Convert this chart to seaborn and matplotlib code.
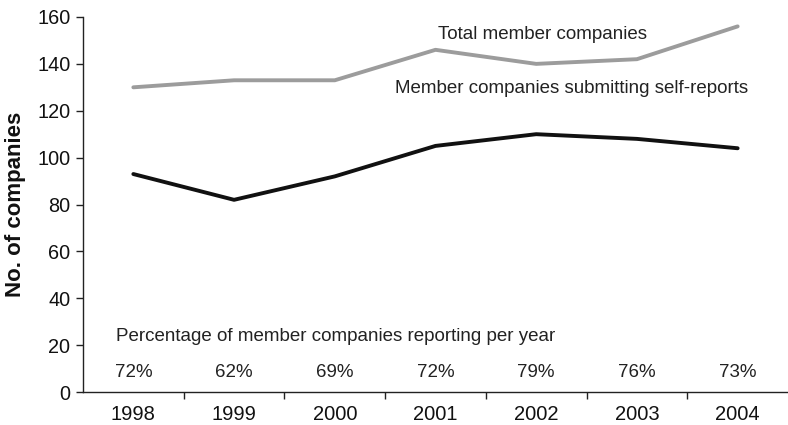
import matplotlib
matplotlib.use("Agg")
import matplotlib.pyplot as plt
import seaborn as sns
import pandas as pd
import numpy as np

years = ["1998", "1999", "2000", "2001", "2002", "2003", "2004"]
total_members = [130, 133, 133, 146, 140, 142, 156]
self_reporting = [93, 82, 92, 105, 110, 108, 104]
pct_labels = ["72%", "62%", "69%", "72%", "79%", "76%", "73%"]

sns.set_theme(style="white")
plt.rcParams['font.family'] = ['Liberation Sans', 'DejaVu Sans']

df = pd.DataFrame({
    "pos": list(range(len(years))) * 2,
    "value": total_members + self_reporting,
    "series": ["Total"] * len(years) + ["Self"] * len(years),
})

fig = plt.figure(figsize=(7.88, 4.25), dpi=100)
ax = fig.add_axes([0.1053, 0.0776, 0.8947, 0.8824])

sns.lineplot(data=df, x="pos", y="value", hue="series",
             palette={"Total": "#9c9c9c", "Self": "#111111"},
             linewidth=2.8, legend=False, ax=ax)

ax.set_xlim(-0.5, len(years) - 0.5)
ax.set_ylim(0, 160)
ax.set_yticks(range(0, 161, 20))
ax.set_xticks(range(len(years)))
ax.set_xticklabels(years)
ax.set_xticks(np.arange(0.5, len(years) - 0.5, 1.0), minor=True)
ax.tick_params(axis="x", which="major", length=0, pad=9, labelsize=14.5, colors="#111111")
ax.tick_params(axis="x", which="minor", length=5, width=1, direction="out", color="#222222", bottom=True)
ax.tick_params(axis="y", which="major", length=5, width=1, direction="out", pad=4, labelsize=14.3,
               left=True, color="#222222", labelcolor="#111111")
for s in ["top", "right"]:
    ax.spines[s].set_visible(False)
for s in ["left", "bottom"]:
    ax.spines[s].set_color("#222222")
    ax.spines[s].set_linewidth(1)

ax.set_xlabel("")
ax.set_ylabel("No. of companies", fontsize=16, fontweight="bold", labelpad=8, color="#111111")

ax.text(3.02, 152.7, "Total member companies", ha="left", va="center", fontsize=13.5, color="#222222")
ax.text(2.60, 129.7, "Member companies submitting self-reports", ha="left", va="center",
        fontsize=13.5, color="#222222")
ax.text(-0.17, 23.5, "Percentage of member companies reporting per year", ha="left", va="center",
        fontsize=13.5, color="#222222")
for i, lab in enumerate(pct_labels):
    ax.text(i, 8.5, lab, ha="center", va="center", fontsize=13.5, color="#222222")

fig.savefig("out.png", dpi=100)
